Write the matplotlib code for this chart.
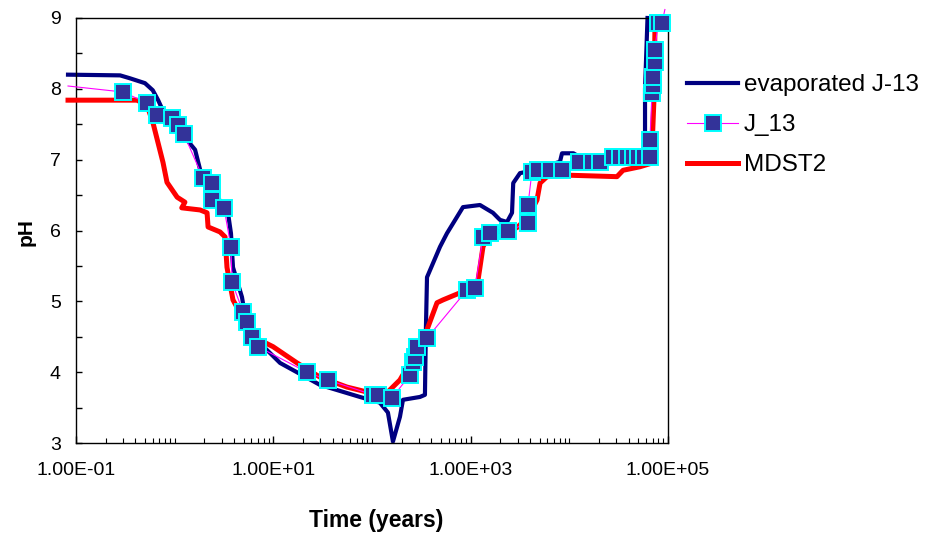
import numpy as np
import matplotlib.pyplot as plt
from matplotlib.lines import Line2D

plt.rcParams['font.family'] = ['Liberation Sans', 'DejaVu Sans']

# evaporated J-13 (time in years, pH)
evap_time = [0.083, 0.28, 0.35, 0.5, 0.6, 0.68, 0.84, 1.33, 1.61, 1.81, 2.3, 3.0,
             3.47, 3.72, 3.9, 4.81, 5.41, 7.32, 11.7, 29.7, 75.5, 120, 145, 163,
             192, 206, 306, 344, 352, 361, 489, 575, 836, 1242, 1682, 1982, 2335,
             2625, 2700, 3162, 3727, 8035, 8430, 11000, 13000, 52000, 58500, 58500, 62000]
evap_ph = [8.20, 8.19, 8.15, 8.08, 7.98, 7.84, 7.56, 7.28, 7.14, 6.86, 6.55, 6.40,
           6.25, 5.96, 5.48, 5.06, 4.63, 4.41, 4.13, 3.82, 3.65, 3.57, 3.43, 3.02,
           3.37, 3.61, 3.65, 3.68, 4.63, 5.34, 5.77, 5.96, 6.33, 6.36, 6.25, 6.15, 6.12,
           6.25, 6.67, 6.81, 6.83, 6.97, 7.09, 7.09, 7.03, 7.03, 7.03, 8.0, 9.0]

# J_13
j13_time = [0.083, 0.30, 0.524, 0.662, 0.94, 1.08, 1.24, 1.94, 2.39, 2.39, 3.16, 3.72,
            3.81, 4.93, 5.41, 6.08, 7.0, 21.9, 35.8, 102, 115, 160, 243, 260, 273,
            286, 361, 918, 1107, 1333, 1570, 2389, 3810, 3810, 4180, 4810, 6370,
            8430, 12530, 17000, 20500, 27700, 32600, 38400, 44200, 49600, 57100,
            65600, 65600, 68800, 70400, 70400, 73800, 73800, 79100, 86900, 93000]
j13_ph = [8.04, 7.955, 7.80, 7.63, 7.59, 7.49, 7.36, 6.74, 6.67, 6.43, 6.32, 5.77,
          5.27, 4.85, 4.71, 4.50, 4.36, 4.00, 3.89, 3.68, 3.68, 3.64, 3.96, 4.14, 4.21,
          4.36, 4.48, 5.16, 5.19, 5.91, 5.96, 5.99, 6.11, 6.36, 6.83, 6.86, 6.86,
          6.86, 6.97, 6.97, 6.97, 7.04, 7.04, 7.04, 7.04, 7.04, 7.04,
          7.04, 7.28, 7.94, 8.05, 8.17, 8.38, 8.55, 8.93, 8.93, 9.12]

# MDST2
mdst_time = [0.083, 0.415, 0.524, 0.603, 0.762, 0.836, 1.06, 1.27, 1.18, 1.81, 2.13,
             2.18, 2.88, 3.24, 3.39, 3.9, 4.59, 6.22, 9.93, 17.4, 29.7, 55.7, 88.9,
             142, 192, 260, 361, 456, 524, 780, 1158, 1242, 1333, 1570, 2946, 3810,
             4700, 5050, 5940, 10160, 30400, 35000, 52000, 68000, 72000, 74000]
mdst_ph = [7.84, 7.84, 7.77, 7.52, 6.96, 6.68, 6.47, 6.40, 6.32, 6.29, 6.25,
           6.05, 5.98, 5.91, 5.48, 5.02, 4.84, 4.50, 4.36, 4.13, 3.93, 3.79, 3.72,
           3.71, 3.89, 4.21, 4.60, 4.98, 5.02, 5.12, 5.20, 5.48, 5.77, 5.96, 6.04, 6.19,
           6.43, 6.67, 6.76, 6.78, 6.76, 6.85, 6.90, 6.95, 7.84, 9.0]

x_major = [0.1, 10, 1000, 100000]
x_labels = ['1.00E-01', '1.00E+01', '1.00E+03', '1.00E+05']
y_major = [3, 4, 5, 6, 7, 8, 9]

W, H = 944, 535
fig = plt.figure(figsize=(W / 100, H / 100), dpi=100)
ax = fig.add_axes([76 / W, 92 / H, 592 / W, 425 / H])

ax.plot(evap_time, evap_ph, color='#000080', lw=3.0, zorder=2, clip_on=False,
        solid_joinstyle='round')
ax.plot(mdst_time, mdst_ph, color='#FF0000', lw=3.6, zorder=3, clip_on=False,
        solid_joinstyle='round')
ax.plot(j13_time, j13_ph, color='#FF00FF', lw=0.8, zorder=4, clip_on=False)
ax.plot(j13_time[1:-1], j13_ph[1:-1], ls='none', marker='s', ms=11.5,
        mfc='#333399', mec='#00FFFF', mew=1.4, zorder=5, clip_on=False)

ax.set_xscale('log')
ax.set_xlim(0.1, 1e5)
ax.set_ylim(3, 9)

minor = [k * 10.0 ** d for d in range(-1, 5) for k in range(1, 10)]
minor = [m for m in minor if 0.1 < m < 1e5 and m not in x_major]
ax.set_xticks(x_major)
ax.set_xticklabels(x_labels)
ax.set_xticks(minor, minor=True)
ax.set_xticklabels([], minor=True)
ax.set_yticks(y_major)
ax.set_yticks(np.arange(3.5, 9, 1.0), minor=True)

ax.tick_params(axis='x', which='major', direction='in', length=5, width=1,
               labelsize=14, pad=14)
ax.tick_params(axis='x', which='minor', direction='in', length=3.5, width=0.8)
ax.tick_params(axis='y', which='both', direction='in', length=4.5, width=1,
               labelsize=14, pad=11)
for s in ax.spines.values():
    s.set_linewidth(1.0)

fig.text(376 / W, 1 - 521 / H, 'Time (years)', fontsize=16.5, fontweight='bold',
         ha='center', va='center')
fig.text(26 / W, 1 - 232 / H, 'pH', fontsize=15, fontweight='bold',
         rotation=90, ha='center', va='center')

handles = [
    Line2D([], [], color='#000080', lw=3.0),
    Line2D([], [], color='#FF00FF', lw=0.8, marker='s', ms=11.5,
           mfc='#333399', mec='#00FFFF', mew=1.4),
    Line2D([], [], color='#FF0000', lw=3.6),
]
fig.legend(handles, ['evaporated J-13', 'J_13', 'MDST2'], loc='upper left',
           bbox_to_anchor=(687 / W, 1 - 74 / H), frameon=False, fontsize=17.5,
           handlelength=2.1, handletextpad=0.25, labelspacing=0.74,
           borderpad=0, borderaxespad=0)

fig.savefig('out.png', dpi=100)
